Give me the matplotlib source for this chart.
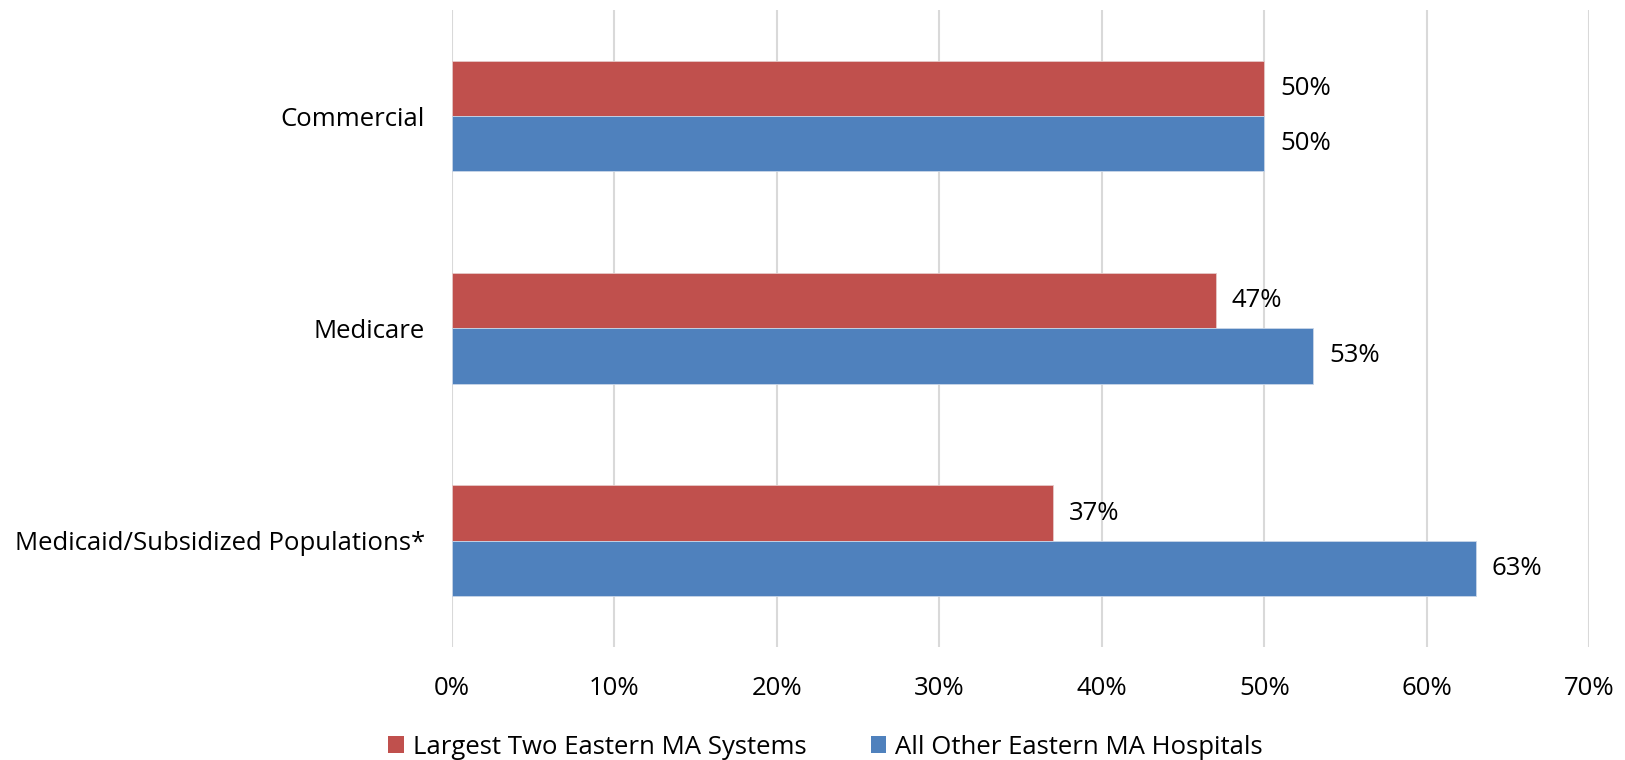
import matplotlib
matplotlib.use('Agg')
import matplotlib.pyplot as plt
from matplotlib.ticker import FuncFormatter
from matplotlib.patches import Patch

# payer categories, top to bottom
categories = ["Commercial", "Medicare", "Medicaid/Subsidized Populations*"]
largest_two = [50, 47, 37]
all_other = [50, 53, 63]
series_names = ["Largest Two Eastern MA Systems", "All Other Eastern MA Hospitals"]
x_ticks = [0, 10, 20, 30, 40, 50, 60, 70]

red = "#C0504D"
blue = "#4F81BD"

plt.rcParams['font.family'] = ['Open Sans', 'DejaVu Sans']
fs = 18.5

fig = plt.figure(figsize=(16.25, 7.6), dpi=100)
ax = fig.add_axes([0.278, 0.149, 0.700, 0.838])

h = 0.26
pos = list(range(len(categories)))
ax.barh([p - h / 2 for p in pos], largest_two, height=h, color=red,
        edgecolor="#e6c9c8", linewidth=0.6, zorder=3)
ax.barh([p + h / 2 for p in pos], all_other, height=h, color=blue,
        edgecolor="#c9d6e8", linewidth=0.6, zorder=3)

# value labels next to each bar end
for p, a, b in zip(pos, largest_two, all_other):
    ax.text(a + 1.0, p - h / 2, f"{a}%", va='center', ha='left', fontsize=fs)
    ax.text(b + 1.0, p + h / 2, f"{b}%", va='center', ha='left', fontsize=fs)

ax.set_xlim(0, 70)
ax.set_ylim(len(categories) - 0.5, -0.5)
ax.set_xticks(x_ticks)
ax.xaxis.set_major_formatter(FuncFormatter(lambda x, pos: f"{x:.0f}%"))
ax.set_yticks(pos)
ax.set_yticklabels(categories)
ax.tick_params(axis='x', length=0, pad=21, labelsize=fs)
ax.tick_params(axis='y', length=0, pad=19.5, labelsize=fs)

ax.grid(axis='x', color="#D9D9D9", linewidth=1.5, zorder=0)
for s in ax.spines.values():
    s.set_visible(False)

handles = [Patch(facecolor=red), Patch(facecolor=blue)]
fig.legend(handles, series_names, loc='center', bbox_to_anchor=(0.508, 0.017),
           ncol=2, frameon=False, fontsize=fs, handlelength=0.6, handleheight=0.6,
           handletextpad=0.35, columnspacing=2.5)

plt.savefig('out.png', dpi=100)
